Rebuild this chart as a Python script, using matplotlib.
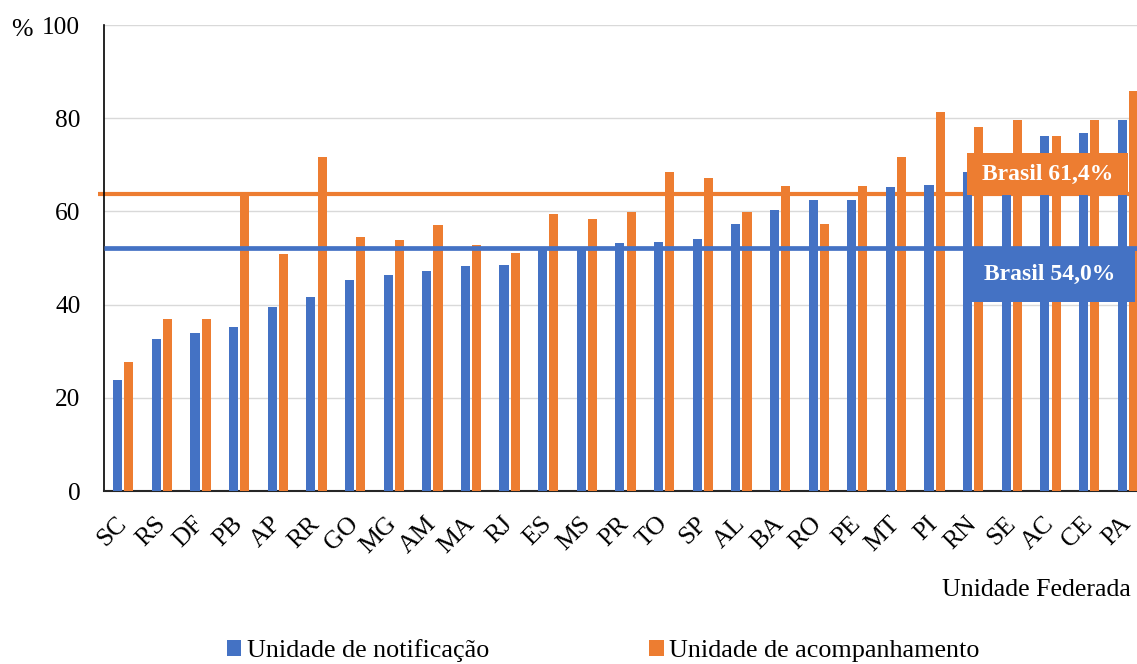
import matplotlib
matplotlib.use("Agg")
import matplotlib.pyplot as plt
from matplotlib.patches import Rectangle, Patch

plt.rcParams['font.family'] = ['Liberation Serif', 'DejaVu Serif']

categories = ["SC", "RS", "DF", "PB", "AP", "RR", "GO", "MG", "AM", "MA", "RJ", "ES", "MS",
              "PR", "TO", "SP", "AL", "BA", "RO", "PE", "MT", "PI", "RN", "SE", "AC", "CE", "PA"]
notificacao = [23.9, 32.6, 33.9, 35.2, 39.5, 41.6, 45.3, 46.4, 47.3, 48.2, 48.5, 52.0, 52.2,
               53.2, 53.5, 54.1, 57.2, 60.4, 62.4, 62.4, 65.2, 65.6, 68.4, 71.5, 76.2, 76.8, 79.6]
acompanhamento = [27.7, 37.0, 36.9, 63.4, 50.8, 71.6, 54.5, 53.8, 57.0, 52.7, 51.1, 59.5, 58.4,
                  59.9, 68.5, 67.1, 59.8, 65.5, 57.4, 65.4, 71.6, 81.3, 78.2, 79.6, 76.2, 79.6, 85.9]
brasil_line_notif = 52.1
brasil_line_acomp = 63.7
brasil_label_notif = "Brasil 54,0%"
brasil_label_acomp = "Brasil 61,4%"
series_names = ["Unidade de notificação", "Unidade de acompanhamento"]
yticks = [0, 20, 40, 60, 80, 100]

BLUE = "#4472C4"
ORANGE = "#ED7D31"

W, H = 1137, 664
fig = plt.figure(figsize=(W / 100, H / 100), dpi=100)
ax = fig.add_axes([104 / W, 1 - 491 / H, 1 - 104 / W, (491 - 25) / H])

x = list(range(len(categories)))
bw = 0.235
off = 0.145
ax.bar([i - off for i in x], notificacao, width=bw, color=BLUE, zorder=3)
ax.bar([i + off for i in x], acompanhamento, width=bw, color=ORANGE, zorder=3)

xmin, xmax = -0.5, 26.24
ax.set_xlim(xmin, xmax)
ax.set_ylim(0, 100)

# Brasil reference lines
ax.hlines(brasil_line_acomp, xmin - 0.16, xmax, color=ORANGE, lw=3.0, zorder=2, clip_on=False)
ax.hlines(brasil_line_notif, xmin, xmax, color=BLUE, lw=3.4, zorder=4)

ax.set_yticks(yticks)
ax.set_yticklabels([str(v) for v in yticks])
ax.yaxis.grid(True, color="#d9d9d9", lw=1.0, zorder=0)
ax.set_axisbelow(True)
ax.tick_params(axis='y', length=0, pad=17, labelsize=18.3)
ax.set_xticks(x)
ax.set_xticklabels(categories, rotation=45, ha='right', va='center', rotation_mode='anchor')
ax.tick_params(axis='x', length=0, pad=21, labelsize=18.5)
for s in ['top', 'right']:
    ax.spines[s].set_visible(False)
ax.spines['left'].set_color('#000000')
ax.spines['bottom'].set_color('#262626')
ax.spines['left'].set_linewidth(1.2)
ax.spines['bottom'].set_linewidth(1.5)

# Label boxes (figure pixel layout)
def fig_box(x0, y0, x1, y1, color, text):
    r = Rectangle((x0 / W, 1 - y1 / H), (x1 - x0) / W, (y1 - y0) / H,
                  transform=fig.transFigure, facecolor=color, edgecolor='none', zorder=5)
    fig.add_artist(r)
    fig.text((x0 + x1) / 2 / W, 1 - (y0 + y1) / 2 / H, text, color='white', fontsize=17,
             fontweight='bold', ha='center', va='center', zorder=6)

fig_box(967, 153, 1128, 195, ORANGE, brasil_label_acomp)
fig_box(964, 247, 1135, 302, BLUE, brasil_label_notif)

fig.text(22 / W, 1 - 30 / H, "%", fontsize=18.5, ha='center', va='center')
fig.text(1131 / W, 1 - 590 / H, "Unidade Federada", fontsize=18.6, ha='right', va='center')

handles = [Patch(facecolor=BLUE, edgecolor='none'), Patch(facecolor=ORANGE, edgecolor='none')]
fig.legend(handles, series_names, loc='center left', bbox_to_anchor=(227 / W, 1 - 651 / H),
           ncol=2, frameon=False, fontsize=18.8, handlelength=0.55, handleheight=0.55,
           handletextpad=0.2, columnspacing=6.15, borderpad=0, borderaxespad=0)

fig.savefig("out.png", dpi=100)
